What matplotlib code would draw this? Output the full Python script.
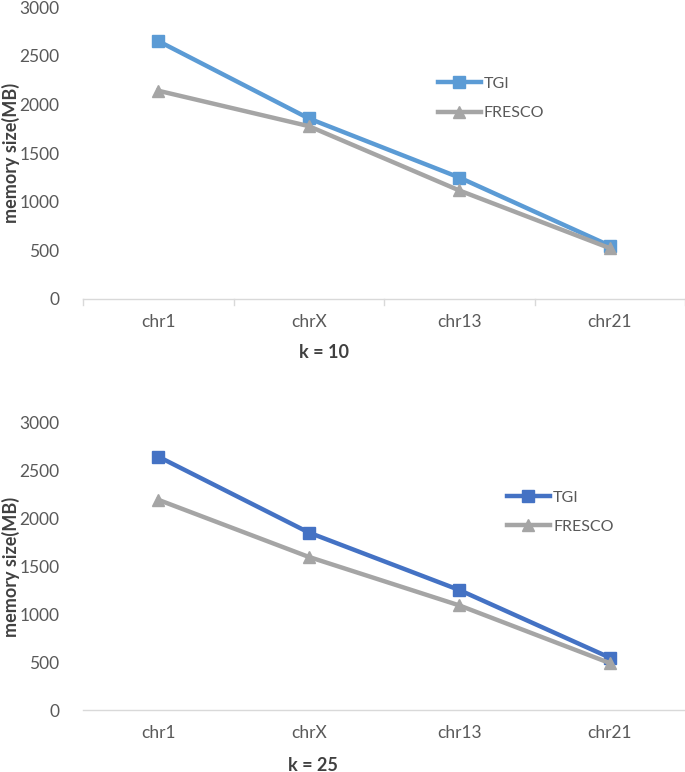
import matplotlib.pyplot as plt
from matplotlib.lines import Line2D

plt.rcParams['font.family'] = ['Lato', 'DejaVu Sans']

# data
chroms = ['chr1', 'chrX', 'chr13', 'chr21']
tgi_k10 = [2650, 1855, 1248, 547]
fresco_k10 = [2140, 1776, 1115, 522]
tgi_k25 = [2648, 1855, 1254, 547]
fresco_k25 = [2197, 1600, 1093, 490]

yticks = [0, 500, 1000, 1500, 2000, 2500, 3000]

TEXT = '#595959'
GRAY = '#A5A5A5'


def draw_panel(ax, tgi, fresco, tgi_color, title, show_ticks, leg_pos, title_pos):
    x = range(len(chroms))
    ax.plot(x, tgi, color=tgi_color, lw=3.2, marker='s', markersize=8,
            label='TGI', zorder=3)
    ax.plot(x, fresco, color=GRAY, lw=3.2, marker='^', markersize=8,
            label='FRESCO', zorder=4)
    ax.set_xlim(-0.5, len(chroms) - 0.5)
    ax.set_ylim(0, 3000)
    ax.set_yticks(yticks)
    ax.set_xticks(list(x))
    ax.set_xticklabels(chroms)
    ax.tick_params(axis='y', length=0, labelsize=12.5, labelcolor=TEXT, pad=17)
    ax.tick_params(axis='x', length=0, labelsize=12.5, labelcolor=TEXT, pad=11)
    for s in ['top', 'right', 'left']:
        ax.spines[s].set_visible(False)
    ax.spines['bottom'].set_color('#D9D9D9')
    ax.spines['bottom'].set_linewidth(1.0)
    if show_ticks:
        for b in [-0.5, 0.5, 1.5, 2.5, 3.5]:
            ax.plot([b, b], [0, -60], color='#D9D9D9', lw=1.0, clip_on=False)
    ax.set_ylabel('memory size(MB)', fontsize=13, fontweight='bold',
                  color='#404040')
    ax.yaxis.set_label_coords(-0.105, 0.5)
    ax.text(title_pos[0], title_pos[1], title, transform=ax.transAxes,
            ha='center', va='top', fontsize=13, fontweight='bold',
            color='#404040')
    handles = [
        Line2D([0], [0], color=tgi_color, lw=3.2, marker='s', markersize=8),
        Line2D([0], [0], color=GRAY, lw=3.2, marker='^', markersize=8),
    ]
    ax.legend(handles, ['TGI', 'FRESCO'], loc='upper left',
              bbox_to_anchor=leg_pos, frameon=False, fontsize=11.5,
              handlelength=2.7, handletextpad=0.2, labelspacing=0.95,
              labelcolor=TEXT)


fig = plt.figure(figsize=(6.85, 7.72), dpi=100)
ax1 = fig.add_axes([0.1212, 0.6127, 0.879, 0.3782])
ax2 = fig.add_axes([0.1212, 0.0803, 0.879, 0.3718])

draw_panel(ax1, tgi_k10, fresco_k10, '#5B9BD5', 'k = 10', True,
           (0.565, 0.81), (0.4, -0.155))
draw_panel(ax2, tgi_k25, fresco_k25, '#4472C4', 'k = 25', False,
           (0.68, 0.815), (0.382, -0.162))

fig.savefig('out.png', dpi=100)
